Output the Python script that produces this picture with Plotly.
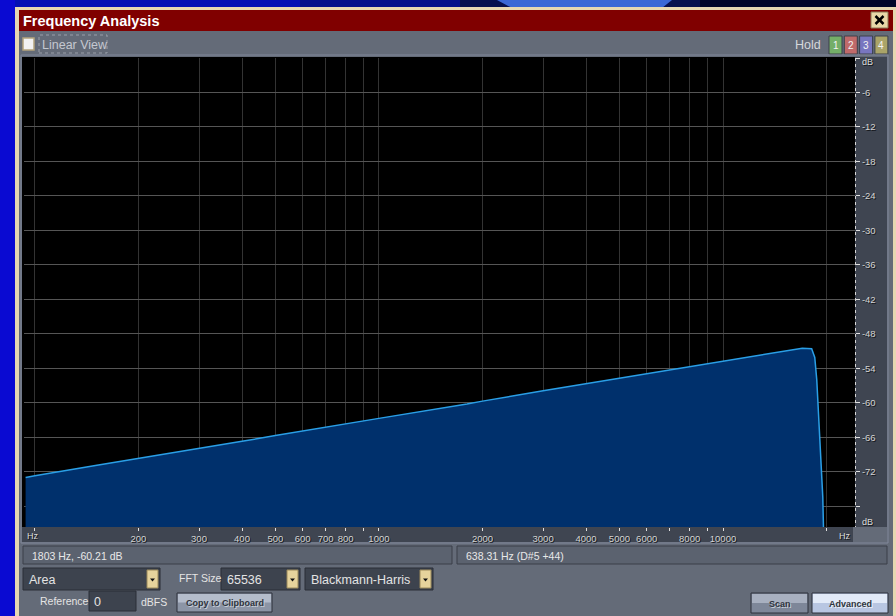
import math
import plotly.graph_objects as go

# ---- spectrum (frequency in Hz, level in dB) ----
freq_hz = [94, 100, 150, 200, 300, 400, 500, 700, 1000, 1803, 2000, 3000,
           5000, 7000, 10000, 13000, 16200, 17000, 18100, 18480, 18730,
           18940, 19110, 19360, 19500, 19630]
level_db = [-73.0, -72.7, -70.9, -69.7, -67.9, -66.7, -65.7, -64.2, -62.7,
            -60.21, -59.7, -57.9, -55.7, -54.2, -52.7, -51.6, -50.6, -50.5,
            -50.6, -52.1, -56.0, -61.7, -66.5, -71.7, -76.4, -84.0]

# ---- axis ticks ----
x_tick_hz = [100, 200, 300, 400, 500, 600, 700, 800, 900, 1000, 2000, 3000,
             4000, 5000, 6000, 7000, 8000, 9000, 10000, 20000]
x_tick_text = ["", "200", "300", "400", "500", "600", "700", "800", "",
               "1000", "2000", "3000", "4000", "5000", "6000", "", "8000", "",
               "10000", ""]
y_tick_db = [0, -6, -12, -18, -24, -30, -36, -42, -48, -54, -60, -66, -72, -78]
y_tick_text = ["", "-6", "-12", "-18", "-24", "-30", "-36", "-42", "-48",
               "-54", "-60", "-66", "-72", ""]

# ---- panel texts ----
window_title = "Frequency Analysis"
cursor_readout = "1803 Hz, -60.21 dB"
pitch_readout = "638.31 Hz (D#5 +44)"
graph_mode = "Area"
fft_size = "65536"
window_func = "Blackmann-Harris"
reference_dbfs = "0"

W, H = 896, 616
ML, MR, MT, MB = 24, 41, 58, 89
PW, PH = W - ML - MR, H - MT - MB


def fx(px):
    return (px - ML) / PW


def fy(py):
    return (H - MB - py) / PH


shapes = []
annotations = []


def rect(x0, y0, x1, y1, fill, line=None, lw=0, dash=None, layer="below"):
    ln = dict(width=lw, color=line or fill)
    if dash:
        ln["dash"] = dash
    shapes.append(dict(type="rect", xref="paper", yref="paper",
                       x0=fx(x0), x1=fx(x1), y0=fy(y1), y1=fy(y0),
                       fillcolor=fill, line=ln, layer=layer))


def seg(x0, y0, x1, y1, color, lw=1, dash=None, layer="below"):
    ln = dict(width=lw, color=color)
    if dash:
        ln["dash"] = dash
    shapes.append(dict(type="line", xref="paper", yref="paper",
                       x0=fx(x0), x1=fx(x1), y0=fy(y0), y1=fy(y1),
                       line=ln, layer=layer))


def poly(pts, fill, layer="below"):
    d = "M " + " L ".join(f"{fx(x):.5f},{fy(y):.5f}" for x, y in pts) + " Z"
    shapes.append(dict(type="path", xref="paper", yref="paper", path=d,
                       fillcolor=fill, line=dict(width=0), layer=layer))


def text(x, y, s, size=12, color="#e6e6e6", weight="normal",
         anchor="left", family="Liberation Sans, Arial, sans-serif", shadow=None):
    f = dict(size=size, color=color, family=family, weight=weight)
    if shadow:
        f["shadow"] = shadow
    annotations.append(dict(x=fx(x), y=fy(y), xref="paper", yref="paper",
                            text=s, showarrow=False, xanchor=anchor,
                            yanchor="middle", font=f))


def button3d(x0, y0, x1, y1, top, bottom, edge="#2c313a"):
    mid = (y0 + y1) / 2
    rect(x0, y0, x1, y1, bottom, edge, 1)
    rect(x0 + 1, y0 + 1, x1 - 1, mid, top)


def dropdown(x0, y0, x1, y1, label):
    rect(x0, y0, x1, y1, "#3d434e", "#2a2f37", 1)
    text(x0 + 4, (y0 + y1) / 2 + 1, label, 12.5, "#e4e4e4")
    bx0 = x1 - 13
    rect(bx0, y0 + 2, x1 - 2, y1 - 2, "#e6d39c", "#9c8a5a", 1)
    cx = (bx0 + x1 - 2) / 2
    cy = (y0 + y1) / 2 + 1
    poly([(cx - 2.5, cy - 1.5), (cx + 2.5, cy - 1.5), (cx, cy + 1.5)], "#111111")


# ---- desktop backdrop ----
rect(0, 0, 300, 8, "#0410b4")
rect(300, 0, 460, 8, "#04108a")
rect(460, 0, 700, 8, "#06104e")
rect(700, 0, 896, 8, "#02062a")
poly([(497, 0), (672, 0), (662, 8), (512, 8)], "#3a68d6")
rect(0, 0, 15, 616, "#0a0ad2")

# ---- window frame ----
rect(15, 7, 896, 616, "#e6d8b2")
rect(19, 10, 893, 31, "#800000")
rect(19, 31, 893, 616, "#646b78")

# close button
rect(871, 12, 888, 28, "#e8d8a8", "#8a7a58", 1)
seg(875.5, 16, 883.5, 24, "#000000", 2.5)
seg(875.5, 24, 883.5, 16, "#000000", 2.5)
text(21, 20.5, window_title, 14.5, "#ffffff", "bold")

# linear view checkbox and hold buttons
rect(23, 38, 34, 50, "#f2f2f2", "#b4a47c", 1.5)
rect(39, 35, 107, 53, "rgba(0,0,0,0)", "#9aa0aa", 1, dash="dot")
text(40, 44.5, "Linear View", 12.5, "#c4c8d0")
text(823, 45.5, "Hold", 12.5, "#d6d8dc", anchor="right")
hold_colors = ["#74ae68", "#c06a6a", "#7876c0", "#aaa468"]
for i, c in enumerate(hold_colors):
    x0 = 829 + i * 15.3
    rect(x0, 36, x0 + 13, 54, c, "#3c404a", 1)
    text(x0 + 6.5, 45.5, str(i + 1), 10, "#f4f4f4", anchor="center")

# plot group outline, graph well and axis strips
rect(21, 55, 888, 543, "rgba(0,0,0,0)", "#80889a", 1)
rect(22, 57, 855, 527, "#000000")
rect(855, 57, 887, 527, "#3f4551")
rect(22, 527, 853, 542, "#3f4551")
seg(855.5, 58, 855.5, 527, "#d6d6d6", 1, dash="dot")

# readout boxes
rect(23, 546, 452, 564, "#5b626f", "#3a3f48", 1)
rect(457, 546, 887, 564, "#5b626f", "#3a3f48", 1)
text(30, 555.5, cursor_readout, 10.5, "#e8e8e8")
text(464, 555.5, pitch_readout, 10.5, "#e8e8e8")

# option controls
dropdown(23, 568, 160, 590, graph_mode)
text(177, 578, "FFT Size", 10.5, "#e4e4e4")
dropdown(221, 568, 300, 590, fft_size)
dropdown(305, 568, 433, 590, window_func)
text(38, 601, "Reference", 10.5, "#e4e4e4")
rect(89, 591, 136, 611, "#3d434e", "#2a2f37", 1)
text(92, 601.5, reference_dbfs, 12.5, "#e4e4e4")
text(139, 602, "dBFS", 10.5, "#e4e4e4")

button3d(177, 593, 272, 612, "#b4bccb", "#8c95a6")
text(224.5, 603, "Copy to Clipboard", 9, "#30353e", "bold", anchor="center",
     shadow="1px 1px 0px #c8ced8")
button3d(751, 593, 808, 613, "#a8b0c0", "#7e8799")
text(779.5, 603.5, "Scan", 9, "#30353e", "bold", anchor="center",
     shadow="1px 1px 0px #c8ced8")
button3d(812, 593, 888, 613, "#e2eaf8", "#b8c6e2")
text(850, 603.5, "Advanced", 9, "#30353e", "bold", anchor="center",
     shadow="1px 1px 0px #f0f4fa")

# axis unit labels
tick_font_shadow = "1px 1px 0px #15181d"
text(25, 535.5, "Hz", 9, "#dcdcdc", shadow=tick_font_shadow)
text(853, 536, "Hz", 9, "#dcdcdc", anchor="right", shadow=tick_font_shadow)
text(860, 61.5, "dB", 9, "#dcdcdc", shadow=tick_font_shadow)
text(860, 521.5, "dB", 9, "#dcdcdc", shadow=tick_font_shadow)

fig = go.Figure()
# floor under the curve so the area can be filled downward
fig.add_trace(go.Scatter(x=[freq_hz[0], freq_hz[-1]], y=[-200, -200],
                         mode="lines", line=dict(width=0), showlegend=False,
                         hoverinfo="skip"))
fig.add_trace(go.Scatter(x=freq_hz, y=level_db, mode="lines",
                         fill="tonexty", fillcolor="#00306c",
                         line=dict(color="#2a9fe6", width=1.5),
                         showlegend=False))

tick_font = dict(size=9.5, color="#d4d4d4",
                 family="Liberation Sans, Arial, sans-serif",
                 shadow=tick_font_shadow)

fig.update_layout(
    width=W, height=H,
    margin=dict(l=ML, r=MR, t=MT, b=MB, pad=0),
    paper_bgcolor="#646b78",
    plot_bgcolor="#000000",
    shapes=shapes,
    annotations=annotations,
    xaxis=dict(type="log", range=[math.log10(93), math.log10(24190)],
               tickvals=x_tick_hz, ticktext=x_tick_text,
               showgrid=True, gridcolor="#333333", gridwidth=1,
               ticks="outside", ticklen=3, tickcolor="#e0e0e0",
               tickfont=tick_font,
               zeroline=False, showline=False, fixedrange=True),
    yaxis=dict(range=[-81.6, 0], side="right",
               tickvals=y_tick_db, ticktext=y_tick_text,
               showgrid=True, gridcolor="#555555", gridwidth=1,
               ticks="outside", ticklen=4, tickcolor="#e0e0e0",
               tickfont=tick_font,
               zeroline=False, showline=False, fixedrange=True),
)

fig.write_html("out.html")
